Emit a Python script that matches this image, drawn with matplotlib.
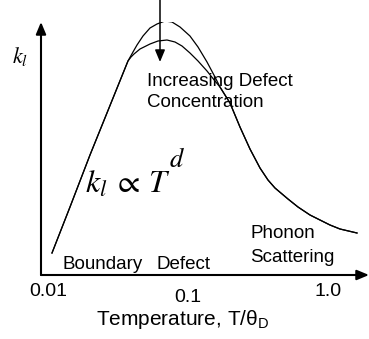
import matplotlib
matplotlib.use('Agg')
import matplotlib.pyplot as plt
from matplotlib.transforms import ScaledTranslation

plt.rcParams['font.family'] = 'Liberation Sans'
plt.rcParams['mathtext.fontset'] = 'custom'
plt.rcParams['mathtext.rm'] = 'Liberation Sans'
plt.rcParams['mathtext.it'] = 'Liberation Sans:italic'

W, H = 369, 339

# boundary-scattering rise (shared by both curves)
T_rise = [0.01068, 0.01436, 0.01995, 0.02638, 0.03727]
k_rise = [0.22, 0.68, 1.20, 1.62, 2.14]

# peak of the pure crystal
T_pure = [0.04047, 0.04323, 0.04770, 0.05354, 0.06006, 0.06851, 0.07686,
          0.08768, 0.1033, 0.1179, 0.1367, 0.1559]
k_pure = [2.23, 2.30, 2.39, 2.47, 2.51, 2.54, 2.53,
          2.48, 2.39, 2.28, 2.13, 1.98]

# lower peak with more defects
T_def = [0.03917, 0.04115, 0.04541, 0.05354, 0.06105, 0.07079, 0.08074, 0.09060,
         0.1033, 0.1179, 0.1367, 0.1559]
k_def = [2.18, 2.21, 2.26, 2.31, 2.34, 2.35, 2.33, 2.29,
         2.22, 2.14, 2.04, 1.94]

# phonon-phonon tail (shared)
T_tail = [0.1692, 0.1995, 0.2351, 0.2772, 0.3268, 0.3727, 0.4182,
          0.5179, 0.6105, 0.7438, 0.8766, 1.0335, 1.218, 1.611]
k_tail = [1.88, 1.72, 1.48, 1.26, 1.07, 0.95, 0.87,
          0.76, 0.68, 0.60, 0.55, 0.50, 0.46, 0.42]

tick_vals = [0.01, 0.1, 1.0]
tick_labels = ['0.01', '0.1', '1.0']


def px(x, y):
    # pixel position -> figure fraction
    return x / W, 1 - y / H


fig = plt.figure(figsize=(W / 100, H / 100), dpi=100)
ax = fig.add_axes([41 / W, 64 / H, 328 / W, 253 / H])
ax.set_xscale('log')
ax.set_xlim(0.008913, 1.963)
ax.set_ylim(0, 2.53)
for s in ax.spines.values():
    s.set_visible(False)
ax.set_yticks([])
ax.minorticks_off()
ax.set_xticks(tick_vals)
ax.set_xticklabels(tick_labels, fontsize=14)
ax.tick_params(axis='x', length=0, pad=6)
# middle label sits a bit lower in the original
lab = ax.get_xticklabels()[1]
lab.set_transform(lab.get_transform() + ScaledTranslation(0, -6 / 100, fig.dpi_scale_trans))

for T_mid, k_mid in [(T_pure, k_pure), (T_def, k_def)]:
    T = T_rise + T_mid + T_tail
    k = k_rise + k_mid + k_tail
    ax.plot(T, k, color='k', lw=0.9)

arrow = dict(arrowstyle='-|>,head_length=0.6,head_width=0.25', lw=1.5,
             color='k', mutation_scale=12, shrinkA=0, shrinkB=0)
ax.annotate('', xy=(0, 1), xytext=(0, 0), xycoords='axes fraction', arrowprops=arrow)
ax.annotate('', xy=(1, 0), xytext=(0, 0), xycoords='axes fraction', arrowprops=arrow)
ax.annotate('', xy=(0.0631, 2.13), xytext=(0.0631, 2.75), annotation_clip=False,
            arrowprops=dict(arrowstyle='-|>,head_length=0.6,head_width=0.25', lw=1.1,
                            color='k', mutation_scale=12, shrinkA=0, shrinkB=0))

ax.set_xlabel('Temperature, T/\u03b8$_{\\rm D}$', fontsize=15)
ax.xaxis.set_label_coords(142 / 328, -33 / 253)

fs = 13.5
fig.text(*px(147, 86), 'Increasing Defect', fontsize=fs, va='baseline')
fig.text(*px(147, 107), 'Concentration', fontsize=fs, va='baseline')
fig.text(*px(62, 269), 'Boundary', fontsize=fs, va='baseline')
fig.text(*px(157, 269), 'Defect', fontsize=fs, va='baseline')
fig.text(*px(250, 238), 'Phonon', fontsize=fs, va='baseline')
fig.text(*px(250, 262), 'Scattering', fontsize=fs, va='baseline')
fig.text(*px(85, 193), r'$k_l\;\propto\,T$', fontsize=23, va='baseline', math_fontfamily='stix')
fig.text(*px(169, 167), r'$d$', fontsize=19, va='baseline', math_fontfamily='stix')
fig.text(*px(12, 63), r'$k_l$', fontsize=16, va='baseline', math_fontfamily='stix')

fig.savefig('out.png', dpi=100)
